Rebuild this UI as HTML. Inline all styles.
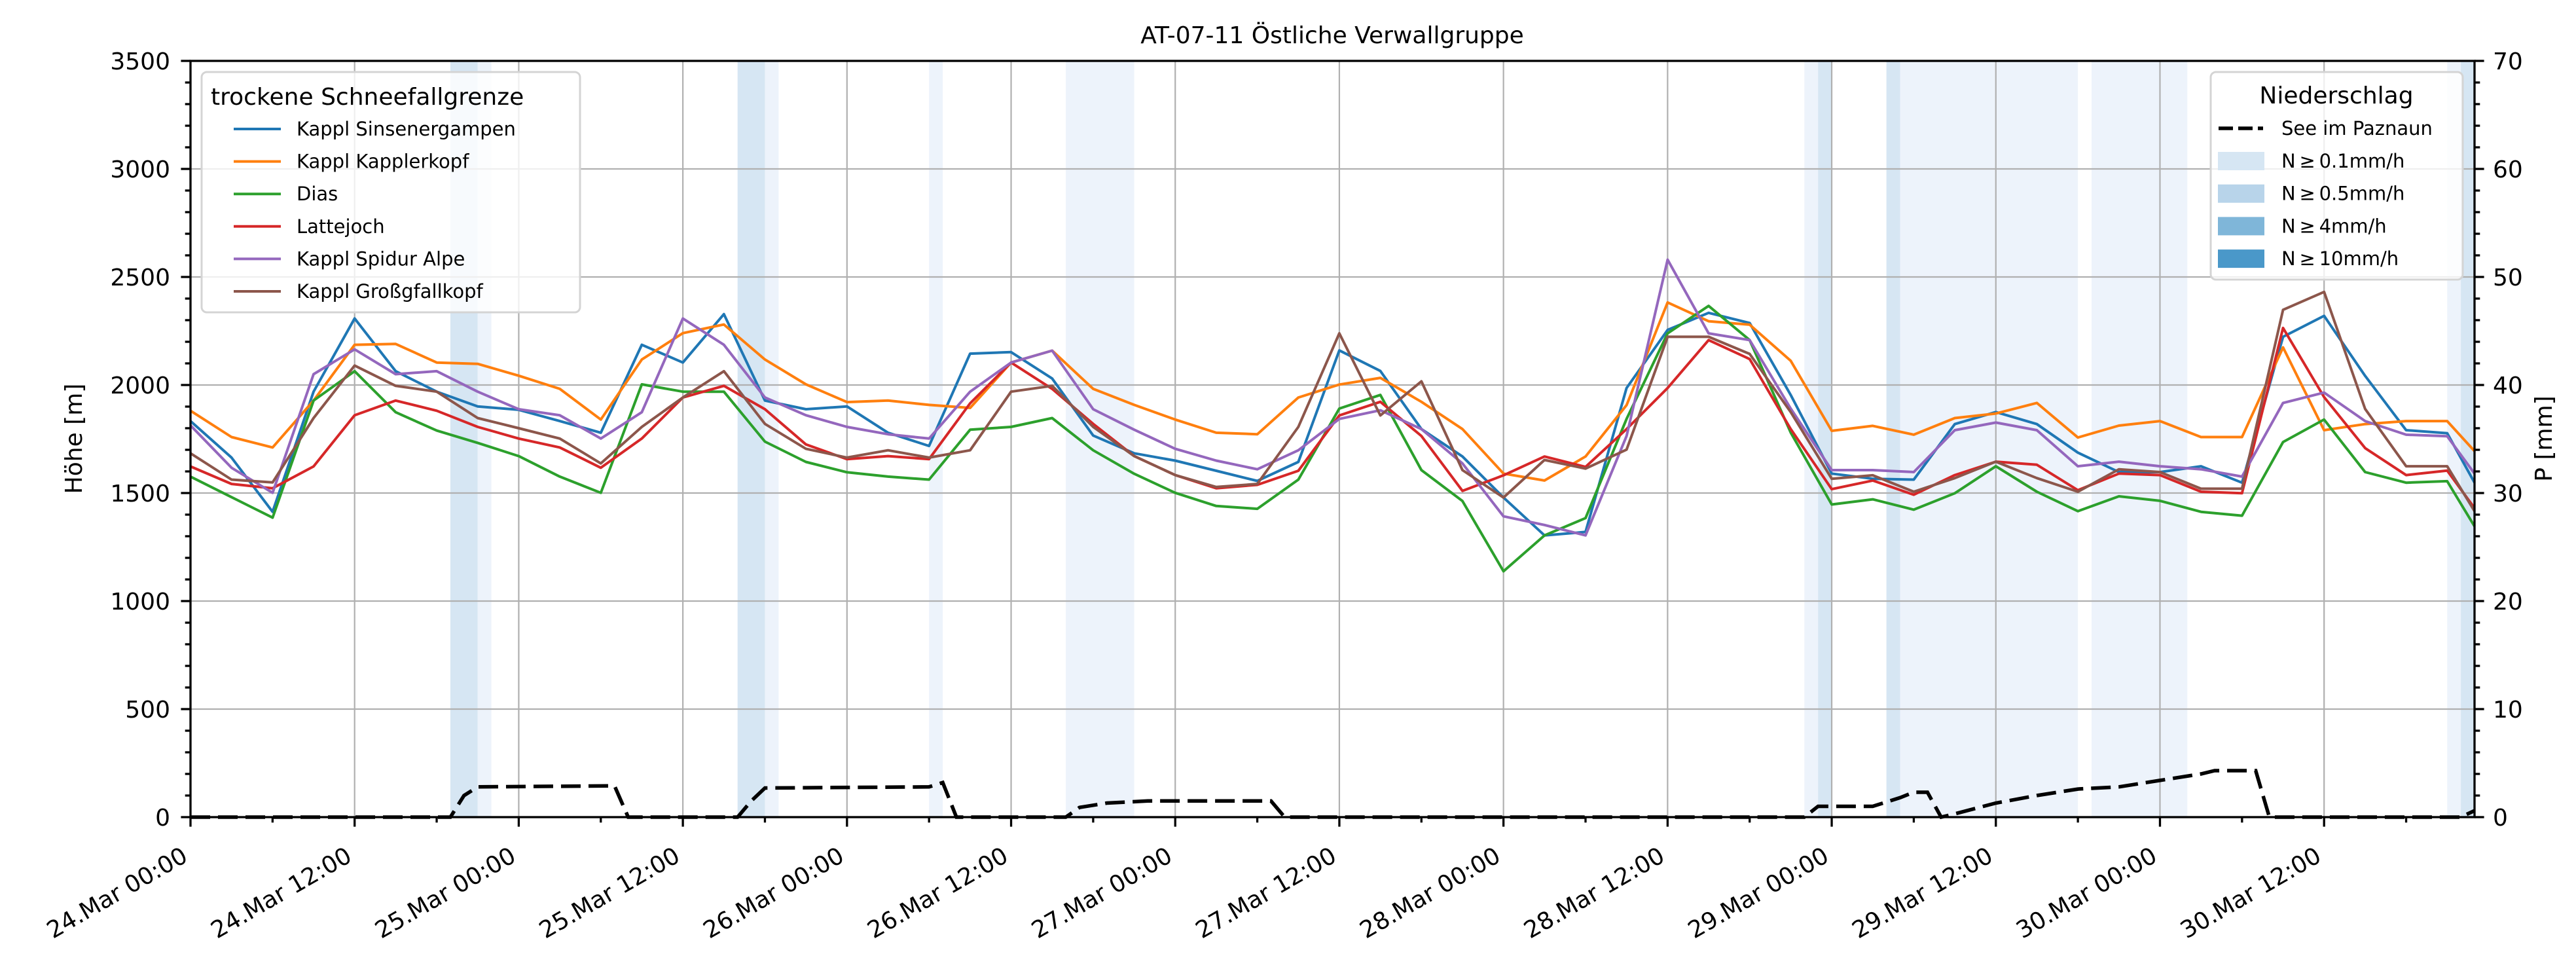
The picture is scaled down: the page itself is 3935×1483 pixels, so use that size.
<!DOCTYPE html>
<html><head><meta charset="utf-8"><style>
html,body{margin:0;padding:0;background:#fff;}
svg{display:block;font-family:"DejaVu Sans","Liberation Sans",sans-serif;}
</style></head><body>
<svg id="chart" width="3935" height="1483" viewBox="0 0 3935 1483" xmlns="http://www.w3.org/2000/svg">
<rect x="0" y="0" width="3935" height="1483" fill="#fff"/>
<g id="bands"></g>
<g id="grid"></g>
<g id="series"></g>
<g id="axes"></g>
<text x="2035" y="66" font-size="36" text-anchor="middle">AT-07-11 Östliche Verwallgruppe</text>
<text transform="translate(125,670) rotate(-90)" font-size="36" text-anchor="middle">Höhe [m]</text>
<text transform="translate(3898,670) rotate(-90)" font-size="36" text-anchor="middle">P [mm]</text>
<g id="legendL"></g>
<g id="legendR"></g>
</svg>
<script>
const hours = [0,3,6,9,12,15,18,21,24,27,30,33,36,39,42,45,48,51,54,57,60,63,66,69,72,75,78,81,84,87,90,93,96,99,102,105,108,111,114,117,120,123,126,129,132,135,138,141,144,147,150,153,156,159,162,165,167];
const seriesNames = ["Kappl Sinsenergampen","Kappl Kapplerkopf","Dias","Lattejoch","Kappl Spidur Alpe","Kappl Großgfallkopf"];
const sinsener = [1833,1664,1413,1969,2308,2064,1969,1901,1885,1833,1779,2186,2104,2328,1928,1888,1901,1779,1718,2145,2152,2030,1766,1684,1650,1603,1556,1644,2160,2065,1796,1669,1479,1304,1320,1986,2255,2334,2287,1954,1590,1566,1562,1819,1875,1819,1687,1597,1597,1624,1548,2223,2320,2042,1791,1777,1548];
const kapplerkopf = [1881,1759,1711,1928,2186,2190,2104,2098,2043,1982,1840,2118,2240,2280,2118,2003,1921,1928,1908,1894,2104,2159,1982,1908,1840,1779,1772,1942,2002,2033,1922,1796,1590,1558,1669,1907,2382,2295,2279,2112,1788,1811,1770,1847,1868,1917,1757,1812,1833,1759,1759,2174,1791,1819,1833,1833,1694];
const dias = [1576,1481,1386,1928,2064,1874,1789,1732,1671,1576,1501,2003,1969,1969,1738,1644,1596,1576,1562,1793,1806,1847,1698,1589,1501,1440,1427,1562,1891,1954,1606,1463,1138,1304,1384,1843,2239,2366,2208,1780,1447,1471,1423,1499,1624,1506,1416,1485,1464,1413,1395,1736,1840,1597,1548,1555,1346];
const lattejoch = [1623,1542,1522,1623,1860,1928,1881,1806,1752,1711,1617,1752,1942,1996,1888,1725,1657,1671,1657,1915,2104,1982,1820,1671,1583,1522,1538,1603,1859,1922,1764,1510,1582,1669,1621,1796,1986,2208,2120,1796,1518,1558,1492,1583,1645,1631,1513,1590,1583,1506,1499,2264,1944,1708,1583,1604,1430];
const spidur = [1813,1617,1501,2050,2165,2050,2064,1969,1888,1860,1752,1874,2308,2186,1942,1860,1806,1772,1752,1969,2104,2159,1888,1793,1705,1650,1610,1698,1843,1883,1796,1637,1392,1352,1304,1764,2580,2239,2208,1891,1606,1606,1597,1791,1826,1791,1624,1645,1624,1610,1576,1917,1965,1833,1770,1763,1590];
const grossgfall = [1684,1562,1549,1847,2090,1996,1969,1847,1800,1752,1637,1806,1942,2064,1820,1705,1664,1698,1664,1698,1969,1996,1806,1671,1583,1528,1542,1806,2239,1859,2017,1606,1479,1653,1613,1701,2223,2223,2144,1875,1566,1582,1506,1569,1645,1569,1506,1610,1597,1520,1520,2348,2431,1889,1624,1624,1416];
const precipHours = [0,19,20,21,31,32,40,41,42,54,55,56,64,65,67,70,79,80,118,119,123,125,126,127,128,129,132,135,138,141,144,147,148,151,152,166,167];
const precipValues = [0,0,2.0,2.8,2.9,0,0,1.5,2.7,2.8,3.2,0,0,0.9,1.3,1.5,1.5,0,0,1.0,1.0,1.8,2.3,2.3,0,0.3,1.3,2.0,2.6,2.8,3.4,4.0,4.3,4.3,0,0,0.6];
const bandStart = [19,21,40,42,54,64,118,119,124,125,139,165,166];
const bandEnd   = [21,22,42,43,55,69,119,120,125,138,146,166,167];
const bandLevel = [1,0,1,0,0,0,0,1,1,0,0,0,1];
const xTickLabels = ["24.Mar 00:00","24.Mar 12:00","25.Mar 00:00","25.Mar 12:00","26.Mar 00:00","26.Mar 12:00","27.Mar 00:00","27.Mar 12:00","28.Mar 00:00","28.Mar 12:00","29.Mar 00:00","29.Mar 12:00","30.Mar 00:00","30.Mar 12:00"];
const yTicks = [0,500,1000,1500,2000,2500,3000,3500];
const y2Ticks = [0,10,20,30,40,50,60,70];

const L=291,R=3780,T=93,B=1248,HMAX=167;
const NS="http://www.w3.org/2000/svg";
const xS=h=>L+(h/HMAX)*(R-L);
const yS=v=>B-(v/3500)*(B-T);
const y2S=v=>B-(v/70)*(B-T);
function mk(tag,attrs,parent){const e=document.createElementNS(NS,tag);for(const k in attrs)e.setAttribute(k,attrs[k]);parent.appendChild(e);return e;}
const colors=["#1f77b4","#ff7f0e","#2ca02c","#d62728","#9467bd","#8c564b"];
const data=[sinsener,kapplerkopf,dias,lattejoch,spidur,grossgfall];
const slugs=["sinsenergampen","kapplerkopf","dias","lattejoch","spidur-alpe","grossgfallkopf"];

const gb=document.getElementById('bands');
for(let i=0;i<bandStart.length;i++){
  const r=mk('rect',{x:xS(bandStart[i]),y:T,width:xS(bandEnd[i])-xS(bandStart[i]),height:B-T,fill:bandLevel[i]?"#d6e6f3":"#edf3fb"},gb);
  
  
}
const gg=document.getElementById('grid');
for(let i=0;i<xTickLabels.length;i++){
  const x=xS(i*12);
  const l=mk('line',{x1:x,x2:x,y1:T,y2:B,stroke:"#b0b0b0","stroke-width":2.2},gg);
  
  
}
for(const v of yTicks){
  const l=mk('line',{x1:L,x2:R,y1:yS(v),y2:yS(v),stroke:"#b0b0b0","stroke-width":2.2},gg);
  
  
}
const gs=document.getElementById('series');
for(let s=0;s<data.length;s++){
  const pts=hours.map((h,i)=>xS(h).toFixed(1)+","+yS(data[s][i]).toFixed(1)).join(" ");
  const p=mk('polyline',{points:pts,fill:"none",stroke:colors[s],"stroke-width":4,"stroke-linejoin":"round"},gs);
  
  
}
const ppts=precipHours.map((h,i)=>xS(h).toFixed(1)+","+y2S(precipValues[i]).toFixed(1)).join(" ");
const pl=mk('polyline',{points:ppts,fill:"none",stroke:"#000","stroke-width":5.5,"stroke-dasharray":"30 12"},gs);



const ga=document.getElementById('axes');
mk('rect',{x:L,y:T,width:R-L,height:B-T,fill:"none",stroke:"#000","stroke-width":3.3},ga);
for(let h=0;h<=HMAX;h+=6){
  const x=xS(h);const major=h%12===0;
  mk('line',{x1:x,x2:x,y1:B,y2:B+(major?14.6:8.3),stroke:"#000","stroke-width":3.3},ga);
}
for(let i=0;i<xTickLabels.length;i++){
  const x=xS(i*12);
  const t=mk('text',{transform:`translate(${x-2},${1314}) rotate(-30)`,"font-size":36,"text-anchor":"end"},ga);
  t.textContent=xTickLabels[i];
  
  
}
for(let v=0;v<=3500;v+=100){
  const major=v%500===0;
  mk('line',{x1:L,x2:L-(major?14.6:8.3),y1:yS(v),y2:yS(v),stroke:"#000","stroke-width":3.3},ga);
}
for(const v of yTicks){
  const t=mk('text',{x:260,y:yS(v)+13,"font-size":36,"text-anchor":"end"},ga);
  t.textContent=v;
  
  
}
for(let v=0;v<=70;v+=2){
  const major=v%10===0;
  mk('line',{x1:R,x2:R+(major?14.6:8.3),y1:y2S(v),y2:y2S(v),stroke:"#000","stroke-width":3.3},ga);
}
for(const v of y2Ticks){
  const t=mk('text',{x:3808,y:y2S(v)+13,"font-size":36,"text-anchor":"start"},ga);
  t.textContent=v;
  
  
}

const gl=document.getElementById('legendL');
mk('rect',{x:308,y:110,width:578,height:367,rx:8,fill:"rgba(255,255,255,0.8)",stroke:"#d4d4d4","stroke-width":3},gl);
let tt=mk('text',{x:322,y:160,"font-size":36},gl);tt.textContent="trockene Schneefallgrenze";
for(let s=0;s<seriesNames.length;s++){
  const y=197+s*49.6;
  mk('line',{x1:357,x2:429,y1:y,y2:y,stroke:colors[s],"stroke-width":4},gl);
  const t=mk('text',{x:453,y:y+10,"font-size":29},gl);
  t.textContent=seriesNames[s];
  
  
}
const gr=document.getElementById('legendR');
mk('rect',{x:3377,y:110,width:385,height:317,rx:8,fill:"rgba(255,255,255,0.8)",stroke:"#d4d4d4","stroke-width":3},gr);
tt=mk('text',{x:3569,y:158,"font-size":36,"text-anchor":"middle"},gr);tt.textContent="Niederschlag";
mk('line',{x1:3389,x2:3457,y1:196,y2:196,stroke:"#000","stroke-width":5.5,"stroke-dasharray":"22 8"},gr);
let t0=mk('text',{x:3485,y:206,"font-size":29},gr);t0.textContent="See im Paznaun";
const patchCols=["#d6e6f3","#b8d4ea","#7fb6d9","#4a98c9"];
const patchLabels=["N\u2009\u2265\u20090.1mm/h","N\u2009\u2265\u20090.5mm/h","N\u2009\u2265\u20094mm/h","N\u2009\u2265\u200910mm/h"];
for(let i=0;i<4;i++){
  const y=246+i*49.7;
  mk('rect',{x:3388,y:y-14,width:71,height:28,fill:patchCols[i]},gr);
  const t=mk('text',{x:3485,y:y+10,"font-size":29},gr);
  t.textContent=patchLabels[i];
  
  
}
</script>
</body></html>
